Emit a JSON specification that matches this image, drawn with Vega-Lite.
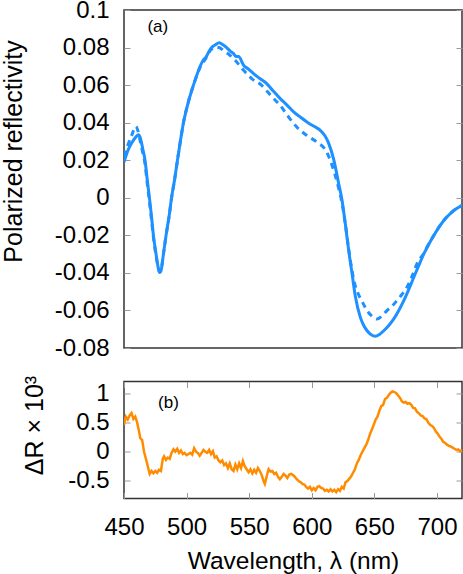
{
  "$schema": "https://vega.github.io/schema/vega-lite/v6.json",
  "padding": {"left": 0, "top": -3, "right": 0, "bottom": 0},
  "config": {
    "font": "Liberation Sans",
    "view": {"stroke": "#333", "strokeWidth": 1.5},
    "axis": {
      "domain": false, "grid": false, "labelFlush": false,
      "tickColor": "#999", "tickSize": -6, "tickWidth": 1,
      "labelFont": "Liberation Sans", "labelFontSize": 24, "labelColor": "#000",
      "titleFont": "Liberation Sans", "titleFontWeight": "normal", "titleColor": "#000"
    },
    "concat": {"spacing": 13.5}
  },
  "datasets": {
    "refl": [
      {"wl": 450, "R": 0.019, "curve": "solid"},
      {"wl": 453, "R": 0.025, "curve": "solid"},
      {"wl": 456, "R": 0.029, "curve": "solid"},
      {"wl": 459, "R": 0.032, "curve": "solid"},
      {"wl": 461.5, "R": 0.0335, "curve": "solid"},
      {"wl": 463, "R": 0.032, "curve": "solid"},
      {"wl": 465, "R": 0.026, "curve": "solid"},
      {"wl": 466.8, "R": 0.02, "curve": "solid"},
      {"wl": 468.5, "R": 0.01, "curve": "solid"},
      {"wl": 470.3, "R": 0.0, "curve": "solid"},
      {"wl": 472, "R": -0.01, "curve": "solid"},
      {"wl": 473.5, "R": -0.02, "curve": "solid"},
      {"wl": 475.6, "R": -0.03, "curve": "solid"},
      {"wl": 477, "R": -0.036, "curve": "solid"},
      {"wl": 478.3, "R": -0.0398, "curve": "solid"},
      {"wl": 479.5, "R": -0.039, "curve": "solid"},
      {"wl": 481.5, "R": -0.03, "curve": "solid"},
      {"wl": 483.6, "R": -0.02, "curve": "solid"},
      {"wl": 486, "R": -0.01, "curve": "solid"},
      {"wl": 488, "R": 0.0, "curve": "solid"},
      {"wl": 490.5, "R": 0.01, "curve": "solid"},
      {"wl": 492.7, "R": 0.02, "curve": "solid"},
      {"wl": 495, "R": 0.03, "curve": "solid"},
      {"wl": 497.5, "R": 0.04, "curve": "solid"},
      {"wl": 501, "R": 0.05, "curve": "solid"},
      {"wl": 505.5, "R": 0.06, "curve": "solid"},
      {"wl": 510.8, "R": 0.07, "curve": "solid"},
      {"wl": 513, "R": 0.073, "curve": "solid"},
      {"wl": 515.6, "R": 0.075, "curve": "solid"},
      {"wl": 518, "R": 0.078, "curve": "solid"},
      {"wl": 520, "R": 0.08, "curve": "solid"},
      {"wl": 523, "R": 0.0815, "curve": "solid"},
      {"wl": 526, "R": 0.0825, "curve": "solid"},
      {"wl": 529, "R": 0.0815, "curve": "solid"},
      {"wl": 532, "R": 0.0800, "curve": "solid"},
      {"wl": 535, "R": 0.0780, "curve": "solid"},
      {"wl": 537.5, "R": 0.0768, "curve": "solid"},
      {"wl": 539.5, "R": 0.0752, "curve": "solid"},
      {"wl": 541.5, "R": 0.0752, "curve": "solid"},
      {"wl": 545.5, "R": 0.0706, "curve": "solid"},
      {"wl": 549.5, "R": 0.0685, "curve": "solid"},
      {"wl": 553.5, "R": 0.0661, "curve": "solid"},
      {"wl": 558.5, "R": 0.0635, "curve": "solid"},
      {"wl": 564, "R": 0.0608, "curve": "solid"},
      {"wl": 569, "R": 0.0570, "curve": "solid"},
      {"wl": 574.8, "R": 0.0528, "curve": "solid"},
      {"wl": 580, "R": 0.0495, "curve": "solid"},
      {"wl": 585.5, "R": 0.0457, "curve": "solid"},
      {"wl": 590.8, "R": 0.0430, "curve": "solid"},
      {"wl": 594.8, "R": 0.0410, "curve": "solid"},
      {"wl": 598.8, "R": 0.0392, "curve": "solid"},
      {"wl": 602.5, "R": 0.0378, "curve": "solid"},
      {"wl": 606.8, "R": 0.0359, "curve": "solid"},
      {"wl": 610.5, "R": 0.0330, "curve": "solid"},
      {"wl": 613.5, "R": 0.0290, "curve": "solid"},
      {"wl": 617.5, "R": 0.0205, "curve": "solid"},
      {"wl": 621.5, "R": 0.0075, "curve": "solid"},
      {"wl": 624.2, "R": -0.0014, "curve": "solid"},
      {"wl": 626.8, "R": -0.0139, "curve": "solid"},
      {"wl": 629.5, "R": -0.0281, "curve": "solid"},
      {"wl": 632.2, "R": -0.0405, "curve": "solid"},
      {"wl": 634.8, "R": -0.0525, "curve": "solid"},
      {"wl": 638.8, "R": -0.0637, "curve": "solid"},
      {"wl": 641.5, "R": -0.0680, "curve": "solid"},
      {"wl": 644.2, "R": -0.0708, "curve": "solid"},
      {"wl": 647.5, "R": -0.0730, "curve": "solid"},
      {"wl": 650.8, "R": -0.0738, "curve": "solid"},
      {"wl": 654, "R": -0.0728, "curve": "solid"},
      {"wl": 657.5, "R": -0.0708, "curve": "solid"},
      {"wl": 661.5, "R": -0.0680, "curve": "solid"},
      {"wl": 665.5, "R": -0.0645, "curve": "solid"},
      {"wl": 669.5, "R": -0.0600, "curve": "solid"},
      {"wl": 673.5, "R": -0.0548, "curve": "solid"},
      {"wl": 677.5, "R": -0.0488, "curve": "solid"},
      {"wl": 681.5, "R": -0.0423, "curve": "solid"},
      {"wl": 685.5, "R": -0.0360, "curve": "solid"},
      {"wl": 689.5, "R": -0.0299, "curve": "solid"},
      {"wl": 693.5, "R": -0.0247, "curve": "solid"},
      {"wl": 697.5, "R": -0.0201, "curve": "solid"},
      {"wl": 701.5, "R": -0.0158, "curve": "solid"},
      {"wl": 705.5, "R": -0.0121, "curve": "solid"},
      {"wl": 709.5, "R": -0.0092, "curve": "solid"},
      {"wl": 713.5, "R": -0.0068, "curve": "solid"},
      {"wl": 717, "R": -0.0052, "curve": "solid"},
      {"wl": 720, "R": -0.0041, "curve": "solid"},
      {"wl": 450, "R": 0.022, "curve": "dashed"},
      {"wl": 453, "R": 0.028, "curve": "dashed"},
      {"wl": 456, "R": 0.033, "curve": "dashed"},
      {"wl": 459.5, "R": 0.038, "curve": "dashed"},
      {"wl": 461, "R": 0.036, "curve": "dashed"},
      {"wl": 463, "R": 0.030, "curve": "dashed"},
      {"wl": 465, "R": 0.024, "curve": "dashed"},
      {"wl": 466.8, "R": 0.018, "curve": "dashed"},
      {"wl": 468.5, "R": 0.008, "curve": "dashed"},
      {"wl": 470.3, "R": -0.002, "curve": "dashed"},
      {"wl": 472, "R": -0.012, "curve": "dashed"},
      {"wl": 473.5, "R": -0.021, "curve": "dashed"},
      {"wl": 475.6, "R": -0.031, "curve": "dashed"},
      {"wl": 477, "R": -0.036, "curve": "dashed"},
      {"wl": 478.3, "R": -0.0395, "curve": "dashed"},
      {"wl": 479.5, "R": -0.0385, "curve": "dashed"},
      {"wl": 481.5, "R": -0.030, "curve": "dashed"},
      {"wl": 483.6, "R": -0.020, "curve": "dashed"},
      {"wl": 486, "R": -0.010, "curve": "dashed"},
      {"wl": 488, "R": 0.0, "curve": "dashed"},
      {"wl": 490.5, "R": 0.01, "curve": "dashed"},
      {"wl": 492.7, "R": 0.02, "curve": "dashed"},
      {"wl": 495, "R": 0.03, "curve": "dashed"},
      {"wl": 497.5, "R": 0.04, "curve": "dashed"},
      {"wl": 501, "R": 0.05, "curve": "dashed"},
      {"wl": 505.5, "R": 0.06, "curve": "dashed"},
      {"wl": 510.8, "R": 0.0695, "curve": "dashed"},
      {"wl": 515.6, "R": 0.0745, "curve": "dashed"},
      {"wl": 519, "R": 0.0785, "curve": "dashed"},
      {"wl": 522.8, "R": 0.0803, "curve": "dashed"},
      {"wl": 526, "R": 0.0800, "curve": "dashed"},
      {"wl": 530.8, "R": 0.0777, "curve": "dashed"},
      {"wl": 534.5, "R": 0.0760, "curve": "dashed"},
      {"wl": 538.8, "R": 0.0732, "curve": "dashed"},
      {"wl": 545.5, "R": 0.0679, "curve": "dashed"},
      {"wl": 552, "R": 0.0635, "curve": "dashed"},
      {"wl": 560, "R": 0.0599, "curve": "dashed"},
      {"wl": 568, "R": 0.0539, "curve": "dashed"},
      {"wl": 574.8, "R": 0.0492, "curve": "dashed"},
      {"wl": 581.5, "R": 0.0430, "curve": "dashed"},
      {"wl": 588, "R": 0.0377, "curve": "dashed"},
      {"wl": 596, "R": 0.0332, "curve": "dashed"},
      {"wl": 604, "R": 0.0297, "curve": "dashed"},
      {"wl": 612, "R": 0.0243, "curve": "dashed"},
      {"wl": 617.5, "R": 0.0146, "curve": "dashed"},
      {"wl": 621.5, "R": 0.0050, "curve": "dashed"},
      {"wl": 624.2, "R": -0.0030, "curve": "dashed"},
      {"wl": 626.8, "R": -0.0140, "curve": "dashed"},
      {"wl": 629.5, "R": -0.0275, "curve": "dashed"},
      {"wl": 632.2, "R": -0.0390, "curve": "dashed"},
      {"wl": 634.3, "R": -0.0459, "curve": "dashed"},
      {"wl": 637, "R": -0.0510, "curve": "dashed"},
      {"wl": 640.2, "R": -0.0552, "curve": "dashed"},
      {"wl": 644.2, "R": -0.0601, "curve": "dashed"},
      {"wl": 648, "R": -0.0630, "curve": "dashed"},
      {"wl": 652, "R": -0.0646, "curve": "dashed"},
      {"wl": 656, "R": -0.0630, "curve": "dashed"},
      {"wl": 660, "R": -0.0601, "curve": "dashed"},
      {"wl": 664, "R": -0.0578, "curve": "dashed"},
      {"wl": 668, "R": -0.0548, "curve": "dashed"},
      {"wl": 672, "R": -0.0515, "curve": "dashed"},
      {"wl": 676, "R": -0.0477, "curve": "dashed"},
      {"wl": 680, "R": -0.0420, "curve": "dashed"},
      {"wl": 684, "R": -0.0352, "curve": "dashed"},
      {"wl": 689.5, "R": -0.0295, "curve": "dashed"},
      {"wl": 693.5, "R": -0.0245, "curve": "dashed"},
      {"wl": 697.5, "R": -0.0200, "curve": "dashed"},
      {"wl": 701.5, "R": -0.0157, "curve": "dashed"},
      {"wl": 705.5, "R": -0.0120, "curve": "dashed"},
      {"wl": 709.5, "R": -0.0091, "curve": "dashed"},
      {"wl": 713.5, "R": -0.0067, "curve": "dashed"},
      {"wl": 717, "R": -0.0051, "curve": "dashed"},
      {"wl": 720, "R": -0.0040, "curve": "dashed"}
    ],
    "diff": [
      {"wl": 450, "dR": 0.46}, {"wl": 451.5, "dR": 0.6}, {"wl": 453, "dR": 0.55}, {"wl": 454.5, "dR": 0.62},
      {"wl": 456, "dR": 0.66}, {"wl": 457.5, "dR": 0.56}, {"wl": 459, "dR": 0.6}, {"wl": 460.5, "dR": 0.5},
      {"wl": 462, "dR": 0.35}, {"wl": 463, "dR": 0.23}, {"wl": 464.5, "dR": 0.2}, {"wl": 466, "dR": 0.0},
      {"wl": 467.5, "dR": -0.12}, {"wl": 469, "dR": -0.25}, {"wl": 470.5, "dR": -0.38}, {"wl": 472, "dR": -0.33},
      {"wl": 473.5, "dR": -0.37}, {"wl": 475, "dR": -0.33}, {"wl": 476.5, "dR": -0.36}, {"wl": 478, "dR": -0.31},
      {"wl": 479.5, "dR": -0.33}, {"wl": 481, "dR": -0.12}, {"wl": 482, "dR": -0.08}, {"wl": 483.5, "dR": -0.14},
      {"wl": 485, "dR": -0.1}, {"wl": 486.5, "dR": -0.12}, {"wl": 488, "dR": -0.02}, {"wl": 489.5, "dR": 0.04},
      {"wl": 491, "dR": 0.0}, {"wl": 492.5, "dR": 0.05}, {"wl": 494, "dR": -0.02}, {"wl": 495.5, "dR": 0.02},
      {"wl": 497, "dR": -0.04}, {"wl": 498.5, "dR": -0.02}, {"wl": 500, "dR": -0.06}, {"wl": 501.5, "dR": -0.04},
      {"wl": 503, "dR": -0.02}, {"wl": 504.5, "dR": -0.05}, {"wl": 506, "dR": 0.06}, {"wl": 507.5, "dR": 0.0},
      {"wl": 509, "dR": -0.02}, {"wl": 510.5, "dR": -0.07}, {"wl": 512, "dR": -0.02}, {"wl": 513.5, "dR": 0.03},
      {"wl": 515, "dR": 0.0}, {"wl": 516.5, "dR": -0.02}, {"wl": 518, "dR": 0.03}, {"wl": 519.5, "dR": -0.04},
      {"wl": 521, "dR": 0.01}, {"wl": 522.5, "dR": -0.1}, {"wl": 524, "dR": -0.08}, {"wl": 525.5, "dR": -0.15},
      {"wl": 527, "dR": -0.18}, {"wl": 528.5, "dR": -0.15}, {"wl": 530, "dR": -0.23}, {"wl": 531.5, "dR": -0.2},
      {"wl": 533, "dR": -0.28}, {"wl": 534.5, "dR": -0.2}, {"wl": 536, "dR": -0.3}, {"wl": 537.5, "dR": -0.33},
      {"wl": 539, "dR": -0.22}, {"wl": 540.5, "dR": -0.3}, {"wl": 542, "dR": -0.2}, {"wl": 543.5, "dR": -0.28},
      {"wl": 545, "dR": -0.16}, {"wl": 546.5, "dR": -0.25}, {"wl": 548, "dR": -0.3}, {"wl": 549.5, "dR": -0.35},
      {"wl": 551, "dR": -0.3}, {"wl": 552.5, "dR": -0.37}, {"wl": 554, "dR": -0.31}, {"wl": 555.5, "dR": -0.36},
      {"wl": 557, "dR": -0.28}, {"wl": 558.5, "dR": -0.33}, {"wl": 560, "dR": -0.4}, {"wl": 561.5, "dR": -0.5},
      {"wl": 562.5, "dR": -0.55}, {"wl": 564, "dR": -0.42}, {"wl": 565.5, "dR": -0.3}, {"wl": 567, "dR": -0.34},
      {"wl": 568.5, "dR": -0.33}, {"wl": 570, "dR": -0.38}, {"wl": 571.5, "dR": -0.36}, {"wl": 573, "dR": -0.43},
      {"wl": 574.5, "dR": -0.47}, {"wl": 576, "dR": -0.43}, {"wl": 577.5, "dR": -0.38}, {"wl": 579, "dR": -0.41},
      {"wl": 580.5, "dR": -0.45}, {"wl": 582, "dR": -0.39}, {"wl": 583.5, "dR": -0.38}, {"wl": 585, "dR": -0.4},
      {"wl": 586.5, "dR": -0.43}, {"wl": 588, "dR": -0.47}, {"wl": 589.5, "dR": -0.5}, {"wl": 591, "dR": -0.52},
      {"wl": 592.5, "dR": -0.55}, {"wl": 594, "dR": -0.56}, {"wl": 595.5, "dR": -0.6}, {"wl": 597, "dR": -0.63},
      {"wl": 598.5, "dR": -0.6}, {"wl": 600, "dR": -0.66}, {"wl": 601.5, "dR": -0.62}, {"wl": 603, "dR": -0.66},
      {"wl": 604.5, "dR": -0.6}, {"wl": 606, "dR": -0.59}, {"wl": 607.5, "dR": -0.62}, {"wl": 609, "dR": -0.63},
      {"wl": 610.5, "dR": -0.67}, {"wl": 612, "dR": -0.65}, {"wl": 613.5, "dR": -0.68}, {"wl": 615, "dR": -0.64},
      {"wl": 616.5, "dR": -0.68}, {"wl": 618, "dR": -0.65}, {"wl": 619.5, "dR": -0.69}, {"wl": 621, "dR": -0.64},
      {"wl": 622.5, "dR": -0.67}, {"wl": 624, "dR": -0.6}, {"wl": 625.5, "dR": -0.63}, {"wl": 627, "dR": -0.52},
      {"wl": 628.5, "dR": -0.5}, {"wl": 630, "dR": -0.46}, {"wl": 631.5, "dR": -0.42}, {"wl": 633, "dR": -0.36},
      {"wl": 634.5, "dR": -0.3}, {"wl": 636, "dR": -0.2}, {"wl": 637.5, "dR": -0.14}, {"wl": 639, "dR": -0.06},
      {"wl": 640.5, "dR": 0.0}, {"wl": 642, "dR": 0.06}, {"wl": 643.5, "dR": 0.12}, {"wl": 645, "dR": 0.2},
      {"wl": 646.5, "dR": 0.3}, {"wl": 648, "dR": 0.38}, {"wl": 649.5, "dR": 0.46}, {"wl": 651, "dR": 0.55},
      {"wl": 652.5, "dR": 0.6}, {"wl": 654, "dR": 0.7}, {"wl": 655.5, "dR": 0.78}, {"wl": 657, "dR": 0.8},
      {"wl": 658.5, "dR": 0.9}, {"wl": 660, "dR": 0.92}, {"wl": 661.5, "dR": 0.97}, {"wl": 663, "dR": 1.01},
      {"wl": 664.5, "dR": 1.03}, {"wl": 666, "dR": 1.02}, {"wl": 667.5, "dR": 1.0}, {"wl": 669, "dR": 0.96},
      {"wl": 670.5, "dR": 0.92}, {"wl": 672, "dR": 0.86}, {"wl": 673.5, "dR": 0.84}, {"wl": 675, "dR": 0.85},
      {"wl": 676.5, "dR": 0.82}, {"wl": 678, "dR": 0.83}, {"wl": 679.5, "dR": 0.8}, {"wl": 681, "dR": 0.75},
      {"wl": 682.5, "dR": 0.74}, {"wl": 684, "dR": 0.68}, {"wl": 685.5, "dR": 0.66}, {"wl": 687, "dR": 0.62},
      {"wl": 688.5, "dR": 0.61}, {"wl": 690, "dR": 0.57}, {"wl": 691.5, "dR": 0.56}, {"wl": 693, "dR": 0.5},
      {"wl": 694.5, "dR": 0.46}, {"wl": 696, "dR": 0.44}, {"wl": 697.5, "dR": 0.41}, {"wl": 699, "dR": 0.35},
      {"wl": 700.5, "dR": 0.31}, {"wl": 702, "dR": 0.26}, {"wl": 703.5, "dR": 0.22}, {"wl": 705, "dR": 0.17},
      {"wl": 706.5, "dR": 0.15}, {"wl": 708, "dR": 0.12}, {"wl": 709.5, "dR": 0.1}, {"wl": 711, "dR": 0.09},
      {"wl": 712.5, "dR": 0.07}, {"wl": 714, "dR": 0.05}, {"wl": 715.5, "dR": 0.03}, {"wl": 717, "dR": 0.04},
      {"wl": 718.5, "dR": 0.01}, {"wl": 720, "dR": 0.03}
    ],
    "panelA": [{"wl": 477, "R": 0.091, "label": "(a)"}],
    "panelB": [{"wl": 485.5, "dR": 0.825, "label": "(b)"}]
  },
  "vconcat": [
    {
      "width": 338,
      "height": 338,
      "resolve": {"axis": {"x": "independent", "y": "independent"}},
      "layer": [
        {
          "data": {"name": "refl"},
          "transform": [{"filter": "datum.curve === 'solid'"}],
          "mark": {"type": "line", "color": "#1e90ff", "strokeWidth": 3, "interpolate": "monotone", "clip": true},
          "encoding": {
            "x": {"field": "wl", "type": "quantitative", "scale": {"domain": [450, 720], "nice": false, "zero": false}, "axis": null},
            "y": {"field": "R", "type": "quantitative", "scale": {"domain": [-0.08, 0.1], "nice": false, "zero": false},
              "axis": {"orient": "left", "values": [-0.08, -0.06, -0.04, -0.02, 0, 0.02, 0.04, 0.06, 0.08, 0.1], "labelExpr": "'' + datum.value", "labelPadding": 21,
                "title": "Polarized reflectivity", "titleFontSize": 25, "titleAngle": -90, "titleAlign": "center", "titleBaseline": "alphabetic", "titleX": -103, "titleY": 141}}
          }
        },
        {
          "data": {"name": "refl"},
          "transform": [{"filter": "datum.curve === 'dashed'"}],
          "mark": {"type": "line", "color": "#1e90ff", "strokeWidth": 3, "strokeDash": [6, 5], "interpolate": "monotone", "clip": true},
          "encoding": {
            "x": {"field": "wl", "type": "quantitative", "axis": null},
            "y": {"field": "R", "type": "quantitative",
              "axis": {"orient": "right", "values": [-0.08, -0.06, -0.04, -0.02, 0, 0.02, 0.04, 0.06, 0.08, 0.1], "labels": false, "title": null}}
          }
        },
        {
          "data": {"name": "panelA"},
          "mark": {"type": "text", "fontSize": 17, "font": "Liberation Sans", "align": "center", "baseline": "middle", "color": "#000"},
          "encoding": {
            "x": {"field": "wl", "type": "quantitative", "axis": null},
            "y": {"field": "R", "type": "quantitative", "axis": null},
            "text": {"field": "label"}
          }
        }
      ]
    },
    {
      "width": 338,
      "height": 117,
      "resolve": {"axis": {"x": "independent", "y": "independent"}},
      "layer": [
        {
          "mark": {"type": "rule", "color": "#666", "strokeWidth": 1.5, "strokeDash": [4, 4]},
          "encoding": {"y": {"datum": 0, "type": "quantitative", "scale": {"domain": [-0.8, 1.2], "nice": false, "zero": false}, "axis": null}}
        },
        {
          "data": {"name": "diff"},
          "mark": {"type": "line", "color": "#ff8c00", "strokeWidth": 2.5, "clip": true},
          "encoding": {
            "x": {"field": "wl", "type": "quantitative", "scale": {"domain": [450, 720], "nice": false, "zero": false},
              "axis": {"orient": "bottom", "values": [450, 500, 550, 600, 650, 700], "labelExpr": "'' + datum.value", "labelPadding": 23,
                "title": "Wavelength, λ (nm)", "titleFontSize": 24.5, "titleBaseline": "alphabetic", "titleY": 69.5}},
            "y": {"field": "dR", "type": "quantitative",
              "axis": {"orient": "left", "values": [-0.5, 0, 0.5, 1], "labelExpr": "'' + datum.value", "labelPadding": 21,
                "title": "ΔR × 10³", "titleFontSize": 25, "titleAngle": -90, "titleAlign": "center", "titleBaseline": "alphabetic", "titleX": -82, "titleY": 43.5}}
          }
        },
        {
          "data": {"name": "diff"},
          "mark": {"type": "line", "opacity": 0},
          "encoding": {
            "x": {"field": "wl", "type": "quantitative", "axis": {"orient": "top", "values": [450, 500, 550, 600, 650, 700], "labels": false, "title": null}},
            "y": {"field": "dR", "type": "quantitative", "axis": {"orient": "right", "values": [-0.5, 0, 0.5, 1], "labels": false, "title": null}}
          }
        },
        {
          "data": {"name": "panelB"},
          "mark": {"type": "text", "fontSize": 17, "font": "Liberation Sans", "align": "center", "baseline": "middle", "color": "#000"},
          "encoding": {
            "x": {"field": "wl", "type": "quantitative", "axis": null},
            "y": {"field": "dR", "type": "quantitative", "axis": null},
            "text": {"field": "label"}
          }
        }
      ]
    }
  ]
}
